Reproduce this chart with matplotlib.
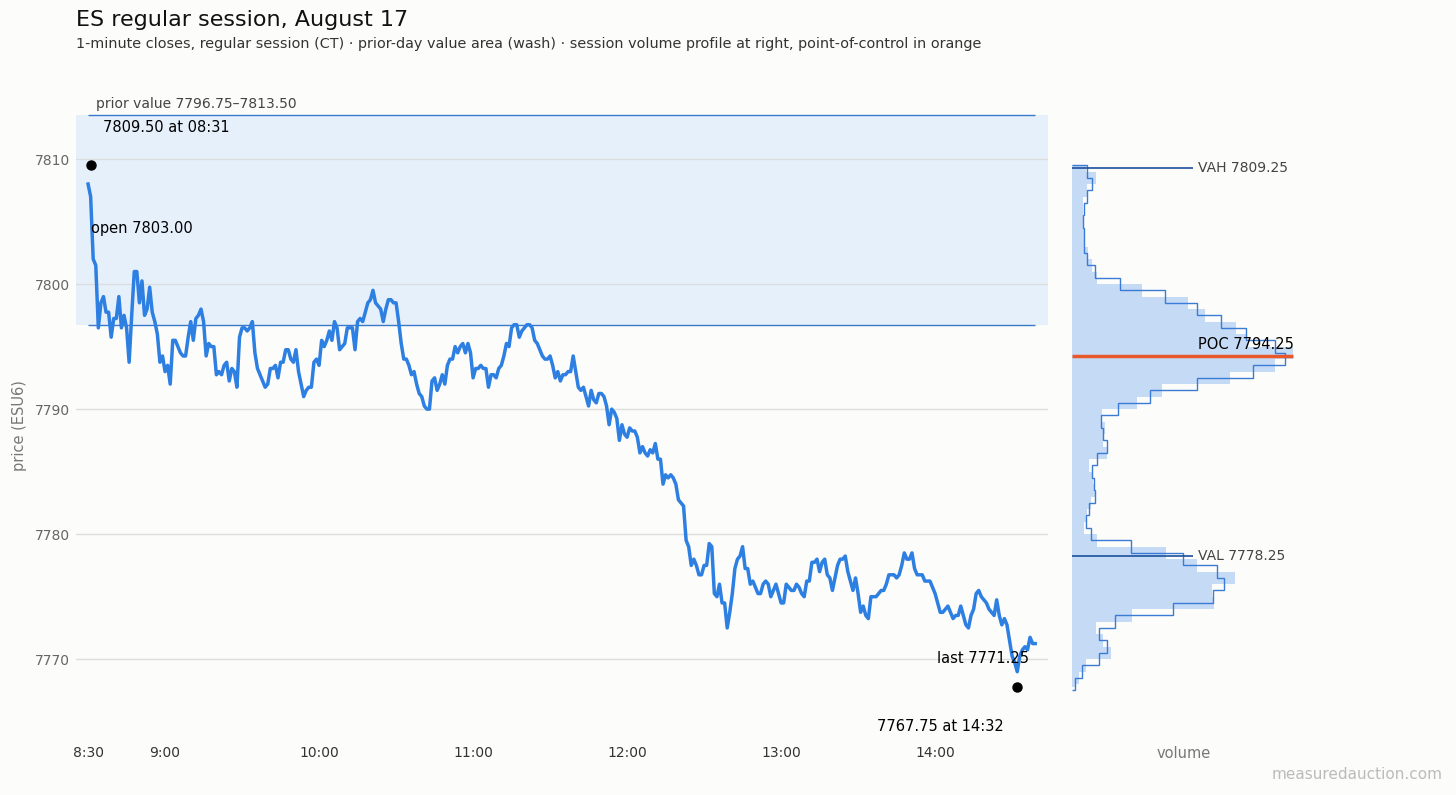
import numpy as np
import matplotlib.pyplot as plt

# 1-minute closes from 08:30 CT, one value per minute
closes = [
    7808.0, 7807.0, 7802.0, 7801.5, 7796.5, 7798.5, 7799.0, 7797.75, 7797.75, 7795.75,
    7797.25, 7797.25, 7799.0, 7796.5, 7797.5, 7796.5, 7793.75, 7797.5, 7801.0, 7801.0,
    7798.5, 7800.25, 7797.5, 7798.0, 7799.75, 7797.75, 7797.0, 7796.0, 7793.75, 7794.25,
    7793.0, 7793.5, 7792.0, 7795.5, 7795.5, 7795.0, 7794.5, 7794.25, 7794.25, 7795.75,
    7797.0, 7795.5, 7797.25, 7797.5, 7798.0, 7797.0, 7794.25, 7795.25, 7795.0, 7795.0,
    7792.75, 7793.0, 7792.75, 7793.5, 7793.75, 7792.25, 7793.25, 7793.0, 7791.75, 7795.75,
    7796.5, 7796.5, 7796.25, 7796.5, 7797.0, 7794.5, 7793.25, 7792.75, 7792.25, 7791.75,
    7792.0, 7793.25, 7793.25, 7793.5, 7792.5, 7793.75, 7793.75, 7794.75, 7794.75, 7794.0,
    7793.75, 7794.75, 7793.0, 7792.0, 7791.0, 7791.5, 7791.75, 7791.75, 7793.75, 7794.0,
    7793.5, 7795.5, 7795.0, 7795.5, 7796.25, 7795.5, 7797.0, 7796.5, 7794.75, 7795.0,
    7795.25, 7796.5, 7796.5, 7796.5, 7794.75, 7797.0, 7797.25, 7797.0, 7797.75, 7798.5,
    7798.75, 7799.5, 7798.5, 7798.25, 7798.0, 7797.0, 7798.0, 7798.75, 7798.75, 7798.5,
    7798.5, 7797.0, 7795.25, 7794.0, 7794.0, 7793.5, 7792.75, 7793.0, 7792.0, 7791.25,
    7791.0, 7790.25, 7790.0, 7790.0, 7792.25, 7792.5, 7791.5, 7792.0, 7792.75, 7792.0,
    7793.5, 7794.0, 7794.0, 7795.0, 7794.5, 7795.0, 7795.25, 7794.5, 7795.25, 7794.5,
    7792.5, 7793.25, 7793.25, 7793.5, 7793.25, 7793.25, 7791.75, 7792.75, 7792.75, 7792.5,
    7793.25, 7793.5, 7794.25, 7795.25, 7795.0, 7796.5, 7796.75, 7796.75, 7795.75, 7796.25,
    7796.5, 7796.75, 7796.75, 7796.5, 7795.5, 7795.25, 7794.75, 7794.25, 7794.0, 7794.0,
    7794.25, 7793.5, 7792.5, 7793.0, 7792.25, 7792.75, 7792.75, 7793.0, 7793.0, 7794.25,
    7793.0, 7791.75, 7791.5, 7791.75, 7791.0, 7790.25, 7791.5, 7790.75, 7790.5, 7791.25,
    7791.25, 7791.0, 7790.25, 7788.75, 7790.0, 7789.75, 7789.25, 7787.5, 7788.75, 7788.0,
    7787.75, 7788.5, 7788.25, 7788.25, 7787.75, 7786.5, 7787.0, 7786.5, 7786.25, 7786.75,
    7786.5, 7787.25, 7786.0, 7786.0, 7784.0, 7784.75, 7784.5, 7784.75, 7784.5, 7784.0,
    7782.75, 7782.5, 7782.25, 7779.5, 7779.0, 7777.5, 7778.0, 7777.5, 7776.75, 7776.75,
    7777.5, 7777.5, 7779.25, 7779.0, 7775.25, 7775.0, 7776.0, 7774.5, 7774.5, 7772.5,
    7773.75, 7775.25, 7777.25, 7778.0, 7778.25, 7779.0, 7777.25, 7777.25, 7776.0, 7776.25,
    7775.75, 7775.25, 7775.25, 7776.0, 7776.25, 7776.0, 7775.0, 7775.5, 7776.0, 7775.25,
    7774.5, 7774.5, 7776.0, 7775.75, 7775.5, 7775.5, 7776.0, 7775.75, 7775.25, 7775.0,
    7776.25, 7776.25, 7777.75, 7777.75, 7778.0, 7777.0, 7777.75, 7778.0, 7776.75, 7776.5,
    7775.5, 7776.5, 7777.5, 7778.0, 7778.0, 7778.25, 7777.0, 7776.25, 7775.5, 7776.5,
    7775.25, 7773.75, 7774.25, 7773.5, 7773.25, 7775.0, 7775.0, 7775.0, 7775.25, 7775.5,
    7775.5, 7776.0, 7776.75, 7776.75, 7776.75, 7776.5, 7776.75, 7777.5, 7778.5, 7778.0,
    7778.0, 7778.5, 7777.25, 7776.75, 7776.75, 7776.75, 7776.25, 7776.25, 7776.25, 7775.75,
    7775.25, 7774.5, 7773.75, 7773.75, 7774.0, 7774.25, 7773.75, 7773.25, 7773.5, 7773.5,
    7774.25, 7773.5, 7772.75, 7772.5, 7773.5, 7774.0, 7775.25, 7775.5, 7775.0, 7774.75,
    7774.5, 7774.0, 7773.75, 7773.5, 7774.75, 7773.5, 7772.75, 7773.25, 7772.75, 7771.5,
    7770.25, 7769.75, 7769.0, 7770.25, 7770.75, 7771.0, 7770.75, 7771.75, 7771.25, 7771.25,
]
minutes = np.arange(len(closes))  # minutes after 08:30

tick_minutes = [0, 30, 90, 150, 210, 270, 330]
tick_labels = ["8:30", "9:00", "10:00", "11:00", "12:00", "13:00", "14:00"]

prior_val = 7796.75
prior_vah = 7813.50
open_px = 7803.00
hi_px, hi_time, hi_min = 7809.50, "08:31", 1
lo_px, lo_time, lo_min = 7767.75, "14:32", 362
vah, val, poc = 7809.25, 7778.25, 7794.25

# session volume profile, 1-point bins starting at 7767 (bottom to top)
vol = [1.2, 3.0, 6.2, 17.4, 14.0, 10.7, 26.9, 64.1, 63.1, 73.6,
       56.6, 42.4, 11.0, 5.3, 6.5, 8.5, 10.3, 9.5, 7.7, 15.5,
       14.0, 14.8, 13.3, 29.1, 40.4, 71.3, 91.7, 100.0, 78.9, 73.9,
       60.0, 52.5, 31.4, 11.0, 8.8, 7.3, 5.3, 5.3, 5.0, 5.0,
       6.5, 10.7, 6.2]
# outline profile, 1-point bins starting at 7767.5
vol_outline = [1.2, 4.2, 12.2, 15.5, 12.2, 19.3, 45.7, 63.8, 68.6, 65.3,
               49.9, 26.6, 8.3, 6.2, 7.5, 10.3, 9.8, 8.8, 11.3, 15.5,
               14.0, 12.8, 20.8, 35.1, 56.3, 81.6, 96.2, 91.7, 78.4, 67.1,
               56.3, 41.9, 21.6, 10.3, 6.8, 5.3, 5.3, 5.0, 5.3, 6.5,
               9.1, 6.5]

bg = '#fcfcfa'
line_c = '#2d7fe2'
wash_c = '#e6f0fb'

fig = plt.figure(figsize=(14.56, 7.95), dpi=100, facecolor=bg)
ax = fig.add_axes([0.0522, 0.0717, 0.6676, 0.7849], facecolor=bg)
ax2 = fig.add_axes([0.7365, 0.0717, 0.1530, 0.7849], facecolor=bg, sharey=ax)

# price panel
ax.axhspan(prior_val, prior_vah, color=wash_c, zorder=0, lw=0)
ax.hlines([prior_val, prior_vah], minutes[0], minutes[-1], color='#3a78cc', lw=1, zorder=2)
ax.annotate("prior value 7796.75\u20137813.50", xy=(3, prior_vah), xytext=(0, 4),
            textcoords='offset pixels', ha='left', va='bottom', fontsize=10,
            color='#444444', annotation_clip=False)
ax.grid(axis='y', color='#dddddd', lw=1)
ax.set_axisbelow(True)
ax.plot(minutes, closes, color=line_c, lw=2.5, zorder=3, solid_joinstyle='round')

ax.plot([hi_min], [hi_px], 'o', color='black', ms=6.5, zorder=4)
ax.plot([lo_min], [lo_px], 'o', color='black', ms=6.5, zorder=4)
ax.annotate(f"{hi_px:.2f} at {hi_time}", xy=(hi_min, hi_px), xytext=(12, 38),
            textcoords='offset pixels', ha='left', va='center', fontsize=10.5)
ax.annotate(f"{lo_px:.2f} at {lo_time}", xy=(lo_min, lo_px), xytext=(-13, -39),
            textcoords='offset pixels', ha='right', va='center', fontsize=10.5)
ax.annotate(f"open {open_px:.2f}", xy=(0, open_px), xytext=(3, 18),
            textcoords='offset pixels', ha='left', va='center', fontsize=10.5)
ax.annotate(f"last {closes[-1]:.2f}", xy=(minutes[-1], closes[-1]), xytext=(-6, -15),
            textcoords='offset pixels', ha='right', va='center', fontsize=10.5)

ax.set_xlim(-4.7, 374)
ax.set_ylim(7763.7, 7813.6)
ax.set_xticks(tick_minutes)
ax.set_xticklabels(tick_labels)
ax.set_yticks([7770, 7780, 7790, 7800, 7810])
ax.tick_params(axis='both', length=0, labelsize=10)
ax.tick_params(axis='x', colors='#333333', pad=6)
ax.tick_params(axis='y', colors='#666666', pad=4.5)
ax.set_ylabel("price (ESU6)", color='#777777', fontsize=10.5, labelpad=5.5)
for s in ax.spines.values():
    s.set_visible(False)

# volume profile panel
fill_edges = np.clip(np.arange(7767, 7767 + len(vol) + 1), lo_px, hi_px)
ax2.stairs(vol, fill_edges, orientation='horizontal', fill=True,
           color='#c5daf5', baseline=0, zorder=1)
out_edges = np.arange(7767.5, 7767.5 + len(vol_outline) + 1)
ax2.stairs(vol_outline, out_edges, orientation='horizontal', fill=False,
           color='#3a7bd5', lw=1, baseline=0, zorder=2)
ax2.hlines(poc, 0, max(vol), color='#e8582a', lw=2.5, zorder=3)
ax2.text(56.8, poc + 0.3, f"POC {poc:.2f}", ha='left', va='bottom', fontsize=10.5, zorder=4)
for lvl, name in [(vah, "VAH"), (val, "VAL")]:
    ax2.hlines(lvl, 0, 54.6, color='#1c4f9c', lw=1.2, zorder=3)
    ax2.text(56.8, lvl, f"{name} {lvl:.2f}", ha='left', va='center', fontsize=10, color='#444444')
ax2.set_xlim(0, 100.8)
ax2.set_xticks([])
ax2.tick_params(axis='y', left=False, labelleft=False)
ax2.set_xlabel("volume", color='#777777', fontsize=10.5, labelpad=6)
for s in ax2.spines.values():
    s.set_visible(False)

fig.text(0.0522, 1 - 20 / 795, "ES regular session, August 17", fontsize=16,
         color='#111111', ha='left', va='center')
fig.text(0.0522, 1 - 44 / 795,
         "1-minute closes, regular session (CT) \u00b7 prior-day value area (wash) \u00b7 "
         "session volume profile at right, point-of-control in orange",
         fontsize=10.4, color='#333333', ha='left', va='center')
fig.text(0.991, 0.0264, "measuredauction.com", fontsize=11, color='#bbbbbb',
         ha='right', va='center')

fig.savefig("out.png", dpi=100, facecolor=bg)
